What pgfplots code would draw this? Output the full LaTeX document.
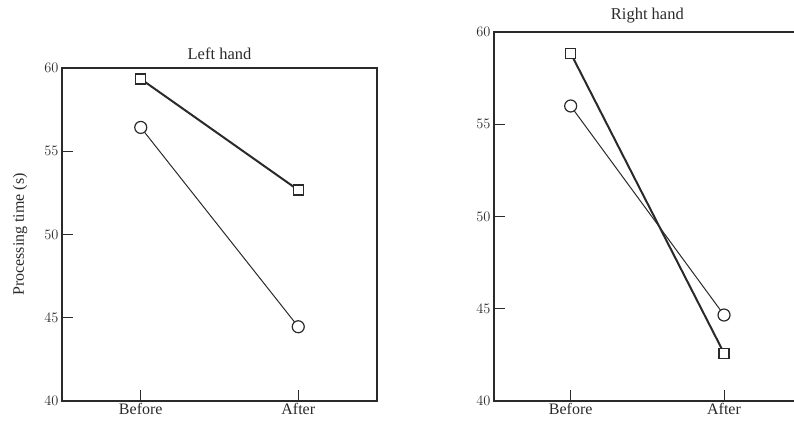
\documentclass[border=0pt]{standalone}
\usepackage{pgfplots}
\pgfplotsset{compat=1.18}
\usepackage{fontspec}
\setmainfont{Liberation Serif}
\definecolor{ink}{HTML}{2A2A2A}
\pgfplotsset{
  panel/.style={
    scale only axis,
    anchor=south west,
    xmin=0.5, xmax=2.5,
    ymin=40, ymax=60,
    xtick={1,2},
    xticklabels={Before,After},
    ytick={40,45,50,55,60},
    tick align=inside,
    xtick pos=bottom,
    ytick pos=left,
    major tick length=11pt,
    axis line style={ink, line width=1.4pt},
    every tick/.style={ink, line width=1pt},
    tick label style={font=\fontsize{14}{14}\selectfont, text=ink},
    yticklabel style={xshift=0pt},
    xticklabel style={yshift=1pt, font=\fontsize{16}{16}\selectfont},
    title style={font=\fontsize{16.5}{17}\selectfont, text=ink, at={(0.5,1)}, anchor=south, yshift=-1pt},
    label style={font=\fontsize{16}{16}\selectfont, text=ink},
    clip=false,
  },
  sq/.style={ink, line width=2pt, mark=square*, mark size=5pt, mark options={fill=white, line width=1.2pt, solid}},
  ci/.style={ink, line width=1pt, mark=*, mark size=6pt, mark options={fill=white, line width=1.2pt, solid}},
}
\begin{document}
\begin{tikzpicture}
\path[use as bounding box] (0pt,0pt) rectangle (794pt,422pt);
\begin{axis}[panel, at={(62pt,21pt)}, width=315pt, height=333pt,
  title={Left hand},
  ylabel={Processing time (s)},
  ylabel style={at={(axis description cs:-0.133,0.5)}, anchor=center}]
\addplot[sq] coordinates {(1,59.34) (2,52.67)};
\addplot[ci] coordinates {(1,56.43) (2,44.46)};
\end{axis}
\begin{axis}[panel, at={(494pt,21pt)}, width=306.7pt, height=369pt,
  title={Right hand}]
\addplot[sq] coordinates {(1,58.85) (2,42.59)};
\addplot[ci] coordinates {(1,55.99) (2,44.66)};
\end{axis}
\end{tikzpicture}
\end{document}
